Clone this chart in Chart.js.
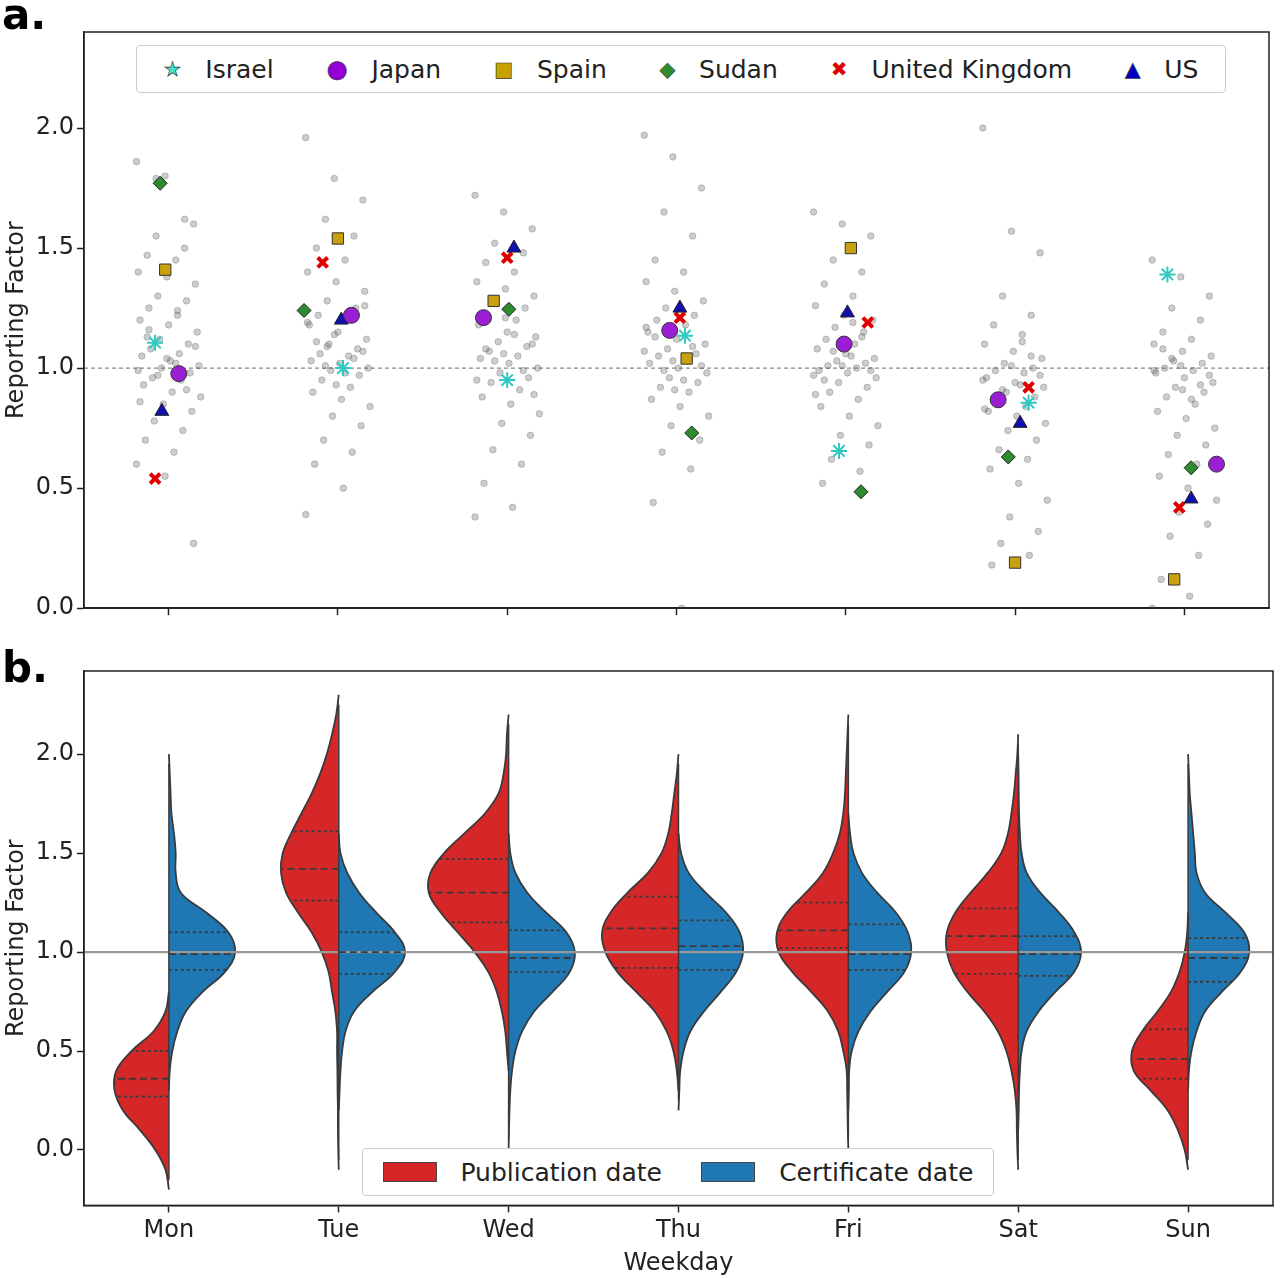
<!DOCTYPE html>
<html><head><meta charset="utf-8">
<script src="https://cdn.jsdelivr.net/npm/chart.js@4.4.0/dist/chart.umd.min.js"></script>
<style>
body{margin:0;background:#fff;font-family:"DejaVu Sans";}
#wrap{position:relative;width:1280px;height:1278px;}
canvas{position:absolute;left:0;}
.lab{position:absolute;font-weight:bold;font-size:42px;font-family:"DejaVu Sans";}
.leg{position:absolute;background:#fff;border:1px solid #ccc;border-radius:4px;display:flex;align-items:center;font-size:25px;color:#222;}
.leg span{display:inline-flex;align-items:center;}
</style></head><body>
<div id="wrap">
<canvas id="cb" style="top:640px" width="1280" height="638"></canvas>
<canvas id="ca" style="top:0" width="1280" height="652"></canvas>
<div class="lab" style="left:2px;top:-10px">a.</div>
<div class="lab" style="left:2px;top:643px">b.</div>
<div class="leg" style="left:136px;top:45px;width:1088px;height:46px;justify-content:space-around;">
<span><b style="color:#40e0d0;font-size:20px;-webkit-text-stroke:0.6px #333">★</b>&nbsp;&nbsp;&nbsp;Israel</span>
<span><b style="color:#9400d3;font-size:24px;-webkit-text-stroke:0.6px #333">●</b>&nbsp;&nbsp;&nbsp;Japan</span>
<span><b style="color:#c8a000;font-size:20px;-webkit-text-stroke:0.6px #333">■</b>&nbsp;&nbsp;&nbsp;Spain</span>
<span><b style="color:#2e8b2e;font-size:20px;-webkit-text-stroke:0.6px #333">◆</b>&nbsp;&nbsp;&nbsp;Sudan</span>
<span><b style="color:#e00000;font-size:20px;">✖</b>&nbsp;&nbsp;&nbsp;United Kingdom</span>
<span><b style="color:#0000c0;font-size:20px;-webkit-text-stroke:0.6px #333">▲</b>&nbsp;&nbsp;&nbsp;US</span>
</div>
<div class="leg" style="left:362px;top:1148px;width:630px;height:46px;justify-content:space-around;">
<span><i style="display:inline-block;width:52px;height:18px;background:#d62728;border:1px solid #444"></i>&nbsp;&nbsp;&nbsp;Publication date</span>
<span><i style="display:inline-block;width:52px;height:18px;background:#1f77b4;border:1px solid #444"></i>&nbsp;&nbsp;&nbsp;Certificate date</span>
</div>
</div>
<script>
const days=['Mon','Tue','Wed','Thu','Fri','Sat','Sun'];
const yTicks=[0,0.5,1.0,1.5,2.0];
// panel a: background points per weekday
const bgMon=[1.86,1.80,1.60,1.55,1.50,1.47,1.45,1.40,1.38,1.35,1.30,1.28,1.25,1.22,1.20,1.18,1.15,1.12,1.10,1.08,1.06,1.05,1.03,1.01,1.00,0.98,0.96,0.95,0.93,0.90,0.88,0.85,0.82,0.78,0.74,0.70,0.65,0.60,0.55,0.27,1.79,1.62,1.13,1.02,0.99,1.04,1.09,0.97,0.91,1.16,1.24,0.86];
const bgTue=[1.96,1.79,1.70,1.62,1.55,1.50,1.45,1.40,1.36,1.32,1.28,1.25,1.22,1.20,1.18,1.15,1.12,1.10,1.08,1.06,1.05,1.03,1.02,1.00,0.99,0.97,0.95,0.92,0.90,0.87,0.84,0.80,0.76,0.70,0.65,0.60,0.50,0.39,1.14,1.07,1.01,1.04,1.11,0.98,1.19,0.93,1.26,1.09];
const bgWed=[1.72,1.65,1.58,1.52,1.48,1.44,1.40,1.36,1.33,1.30,1.27,1.25,1.22,1.20,1.18,1.15,1.13,1.11,1.09,1.07,1.05,1.04,1.02,1.00,0.98,0.96,0.94,0.91,0.88,0.85,0.81,0.77,0.72,0.66,0.60,0.52,0.42,0.38,1.06,1.10,1.03,0.99,1.08,1.14,0.95,1.21,0.89];
const bgThu=[1.97,1.88,1.75,1.65,1.55,1.45,1.40,1.36,1.32,1.28,1.25,1.22,1.20,1.18,1.15,1.12,1.10,1.08,1.06,1.05,1.04,1.02,1.00,0.98,0.96,0.94,0.92,0.90,0.87,0.84,0.80,0.76,0.70,0.65,0.58,0.44,0.0,1.07,1.03,1.01,0.99,1.09,1.13,0.95,1.17,0.91];
const bgFri=[1.65,1.60,1.55,1.45,1.40,1.35,1.30,1.26,1.22,1.20,1.17,1.15,1.12,1.10,1.08,1.06,1.04,1.03,1.02,1.01,1.00,0.99,0.98,0.96,0.94,0.92,0.90,0.87,0.84,0.80,0.76,0.72,0.68,0.62,0.57,0.52,1.05,0.97,1.01,0.99,1.07,1.13,0.95,1.19,0.89];
const bgSat=[2.00,1.57,1.48,1.30,1.22,1.18,1.14,1.10,1.07,1.04,1.02,1.00,0.99,0.98,0.96,0.94,0.92,0.90,0.88,0.86,0.84,0.82,0.80,0.77,0.74,0.70,0.66,0.62,0.58,0.52,0.45,0.38,0.32,0.27,0.22,0.18,0.93,0.95,1.01,0.97,0.91,1.05,0.87,1.11,0.83];
const bgSun=[1.45,1.38,1.30,1.25,1.20,1.15,1.12,1.10,1.07,1.05,1.03,1.02,1.00,0.99,0.98,0.96,0.94,0.92,0.90,0.88,0.85,0.82,0.79,0.75,0.72,0.68,0.64,0.60,0.55,0.50,0.45,0.40,0.35,0.30,0.22,0.12,0.05,0.0,1.01,0.97,1.04,0.93,1.08,0.87,0.99,0.91];
const bgAll=[bgMon,bgTue,bgWed,bgThu,bgFri,bgSat,bgSun];
// country values per weekday, and small horizontal offsets as read
const israel=[1.106,1.0,0.95,1.135,0.655,0.856,1.39];
const israelOff=[-0.08,0.03,0,0.05,-0.04,0.08,-0.1];
const japan=[0.977,1.22,1.21,1.157,1.10,0.868,0.60];
const japanOff=[0.06,0.08,-0.14,-0.04,-0.01,-0.1,0.19];
const spain=[1.41,1.54,1.28,1.04,1.5,0.19,0.12];
const spainOff=[-0.02,0,-0.08,0.06,0.03,0,-0.06];
const sudan=[1.77,1.24,1.245,0.73,0.485,0.63,0.585];
const sudanOff=[-0.05,-0.2,0.01,0.09,0.09,-0.04,0.04];
const uk=[0.54,1.44,1.46,1.21,1.19,0.92,0.42];
const ukOff=[-0.08,-0.09,0,0.02,0.13,0.08,-0.03];
const us=[0.82,1.2,1.5,1.25,1.23,0.77,0.455];
const usOff=[-0.04,0.02,0.04,0.02,0.01,0.03,0.04];
// panel b: violin half-widths at levels -0.2..2.3 step 0.1
const levels=[-0.2,-0.1,0,0.1,0.2,0.3,0.4,0.5,0.6,0.7,0.8,0.9,1.0,1.1,1.2,1.3,1.4,1.5,1.6,1.7,1.8,1.9,2.0,2.1,2.2,2.3];
const pubW=[
[0,0.02,0.08,0.17,0.27,0.32,0.31,0.22,0.09,0.02,0,0,0,0,0,0,0,0,0,0,0,0,0,0,0,0],
[0,0,0.003,0.005,0.005,0.007,0.008,0.01,0.01,0.02,0.04,0.06,0.1,0.16,0.24,0.31,0.34,0.33,0.28,0.22,0.16,0.11,0.07,0.04,0.015,0],
[0,0,0,0,0,0,0,0.01,0.02,0.04,0.07,0.12,0.2,0.3,0.4,0.47,0.46,0.38,0.26,0.14,0.06,0.03,0.015,0.01,0,0],
[0,0,0,0,0,0,0.01,0.03,0.07,0.14,0.25,0.36,0.43,0.45,0.4,0.3,0.18,0.1,0.06,0.04,0.025,0.01,0,0,0,0],
[0,0,0,0.003,0.005,0.007,0.01,0.03,0.06,0.12,0.22,0.33,0.41,0.42,0.36,0.25,0.15,0.09,0.05,0.03,0.02,0.015,0.01,0.005,0,0],
[0,0,0.005,0.008,0.01,0.02,0.04,0.07,0.12,0.2,0.3,0.38,0.42,0.42,0.37,0.28,0.18,0.1,0.06,0.04,0.025,0.015,0.005,0,0,0],
[0,0,0.02,0.06,0.12,0.22,0.32,0.33,0.27,0.18,0.1,0.05,0.02,0.005,0,0,0,0,0,0,0,0,0,0,0,0]];
const certW=[
[0,0,0,0,0,0,0.005,0.02,0.05,0.1,0.2,0.33,0.39,0.35,0.22,0.07,0.04,0.04,0.03,0.015,0.01,0.005,0,0,0,0],
[0,0,0,0,0,0.005,0.01,0.02,0.04,0.09,0.2,0.33,0.39,0.33,0.22,0.12,0.05,0.01,0,0,0,0,0,0,0,0],
[0,0,0,0.002,0.005,0.01,0.02,0.04,0.08,0.15,0.26,0.36,0.39,0.34,0.22,0.11,0.04,0.01,0,0,0,0,0,0,0,0],
[0,0,0,0,0,0.005,0.01,0.03,0.07,0.15,0.25,0.34,0.38,0.36,0.28,0.16,0.06,0.015,0,0,0,0,0,0,0,0],
[0,0,0,0,0,0.003,0.005,0.02,0.06,0.13,0.23,0.33,0.37,0.35,0.28,0.17,0.08,0.03,0.01,0,0,0,0,0,0,0],
[0,0,0,0,0.003,0.005,0.01,0.02,0.05,0.12,0.22,0.33,0.37,0.33,0.24,0.13,0.05,0.02,0.01,0.005,0.003,0.002,0,0,0,0],
[0,0,0,0,0,0,0.005,0.02,0.05,0.1,0.2,0.31,0.36,0.33,0.22,0.1,0.05,0.04,0.03,0.02,0.01,0.005,0,0,0,0]];
const pubQ=[[0.27,0.36,0.50],[1.26,1.42,1.61],[1.15,1.30,1.47],[0.92,1.12,1.28],[1.02,1.11,1.25],[0.89,1.08,1.22],[0.36,0.46,0.61]];
const certQ=[[0.91,0.99,1.10],[0.89,1.0,1.1],[0.90,0.97,1.11],[0.91,1.03,1.16],[0.91,0.99,1.14],[0.88,0.99,1.08],[0.85,0.97,1.07]];

const font={family:'DejaVu Sans',size:24};
Chart.defaults.color='#222';
function xAxis(showLabels,title){
 return {type:'linear',min:-0.5,max:6.5,
  afterBuildTicks:a=>{a.ticks=days.map((d,i)=>({value:i}));},
  ticks:{font,color:'#222',autoSkip:false,maxRotation:0,padding:4,callback:(v)=>showLabels?days[v]:''},
  grid:{display:true,drawOnChartArea:false,color:'#222',tickLength:7,tickWidth:1.5},
  border:{color:'#222',width:1.5},
  title:title?{display:true,text:title,font,color:'#222',padding:0}:{display:false}};
}
function yAxis(min,max){
 return {type:'linear',min,max,
  afterBuildTicks:a=>{a.ticks=yTicks.map(v=>({value:v}));},
  ticks:{font,color:'#222',callback:v=>v.toFixed(1)},
  grid:{display:true,drawOnChartArea:false,color:'#222',tickLength:7,tickWidth:1.5},
  border:{color:'#222',width:1.5},
  title:{display:true,text:'Reporting Factor',font,color:'#222',padding:2}};
}
const frame={id:'frame',afterDraw(c){const a=c.chartArea,x=c.ctx;x.save();x.strokeStyle='#222';x.lineWidth=1.5;x.strokeRect(a.left,a.top,a.right-a.left,a.bottom-a.top);x.restore();}};

// panel a datasets
const dsA=[];
dsA.push({type:'line',order:9,data:[{x:-0.5,y:1},{x:6.5,y:1}],borderColor:'#888',borderWidth:1.2,borderDash:[4,3],pointRadius:0});
const bgPts=[];
bgAll.forEach((arr,d)=>arr.forEach((v,i)=>{bgPts.push({x:d+((((i*53)%37)/36)-0.5)*0.38,y:v});}));
dsA.push({type:'scatter',order:8,data:bgPts,pointRadius:3.3,backgroundColor:'rgba(90,90,90,0.3)',borderColor:'rgba(60,60,60,0.3)',borderWidth:0.8});
function cty(vals,off,style,bg,bc,r,bw){return {type:'scatter',order:1,data:vals.map((v,i)=>({x:i+off[i],y:v})),pointStyle:style,pointRadius:r,backgroundColor:bg,borderColor:bc,borderWidth:bw};}
dsA.push(cty(spain,spainOff,'rect','#c9a10e','#333',8,1));
dsA.push(cty(sudan,sudanOff,'rectRot','#2e8b2e','#222',7,1));
dsA.push(cty(japan,japanOff,'circle','#9a1fd4','#333',8,1));
dsA.push(cty(us,usOff,'triangle','#1010b0','#222',8,1));
dsA.push(cty(uk,ukOff,'crossRot','#e00000','#e00000',7,4));
dsA.push(cty(israel,israelOff,'star','#40e0d0','#30c8c0',8,2));
new Chart(document.getElementById('ca'),{data:{datasets:dsA},options:{responsive:false,animation:false,
 layout:{padding:{top:32,right:4,bottom:0,left:0}},
 plugins:{legend:{display:false},tooltip:{enabled:false}},
 scales:{x:xAxis(false),y:yAxis(0,2.4)}},plugins:[frame]});

// panel b datasets
const dsB=[];
dsB.push({type:'line',order:2,data:[{x:-0.5,y:1},{x:6.5,y:1}],borderColor:'#999',borderWidth:2.2,pointRadius:0});
function wAt(w,y){const t=(y+0.2)/0.1;const i=Math.floor(t);const f=t-i;return w[i]*(1-f)+w[i+1]*f;}
function half(w,d,sign,color){
 let a=w.findIndex(v=>v>0),b=w.length-1-[...w].reverse().findIndex(v=>v>0);
 a=Math.max(0,a-1);b=Math.min(w.length-1,b+1);
 const pts=[];for(let i=a;i<=b;i++)pts.push({x:d+sign*w[i],y:levels[i]});
 dsB.push({type:'line',order:5,data:pts,fill:'shape',backgroundColor:color,borderColor:'#3a3a3a',borderWidth:1.8,pointRadius:0,tension:0.4});
 return [levels[a],levels[b]];
}
for(let d=0;d<7;d++){
 const r1=half(pubW[d],d,-1,'#d62728');
 const r2=half(certW[d],d,1,'#1f77b4');
 dsB.push({type:'line',order:1,data:[{x:d,y:Math.min(r1[0],r2[0])+0.05},{x:d,y:Math.max(r1[1],r2[1])-0.05}],borderColor:'#3a3a3a',borderWidth:1.5,pointRadius:0});
 [[pubQ[d],pubW[d],-1],[certQ[d],certW[d],1]].forEach(([q,w,s])=>{
  q.forEach((v,k)=>{dsB.push({type:'line',order:0,data:[{x:d,y:v},{x:d+s*wAt(w,v),y:v}],borderColor:'#3a3a3a',borderWidth:1.8,borderDash:k==1?[7,4]:[3,3],pointRadius:0});});
 });
}
new Chart(document.getElementById('cb'),{data:{datasets:dsB},options:{responsive:false,animation:false,
 layout:{padding:{top:31,right:7,bottom:0,left:0}},
 plugins:{legend:{display:false},tooltip:{enabled:false}},
 scales:{x:xAxis(true,'Weekday'),y:yAxis(-0.28,2.42)}},plugins:[frame]});
</script>
</body></html>
